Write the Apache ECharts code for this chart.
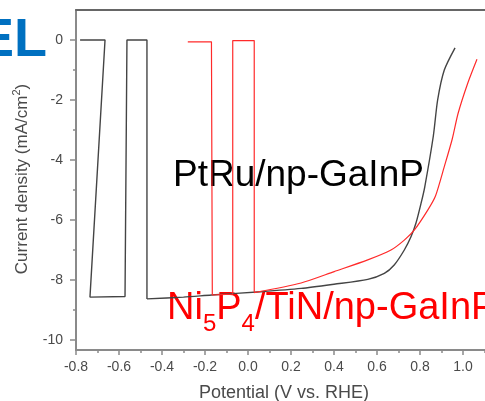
<!DOCTYPE html>
<html><head><meta charset="utf-8">
<script src="https://cdn.jsdelivr.net/npm/echarts@6/dist/echarts.min.js"></script>
<style>html,body{margin:0;padding:0;background:#fff}#c{width:485px;height:401px}</style>
</head><body><div id="c"></div>
<script>
// ---- data ----
const yMajorTicks = [0, -2, -4, -6, -8, -10];
const yMinorTicks = [-1, -3, -5, -7, -9];
const xTitle = 'Potential (V vs. RHE)';
const yTitleMain = 'Current density (mA/cm';
const yTitleSup = '2';
const labelPtRu = 'PtRu/np-GaInP';
const labelNiParts = ['Ni', '5', 'P', '4', '/TiN/np-GaInP'];
const cornerText = 'EL';
// PtRu/np-GaInP (black) [V vs RHE, mA/cm2] : light on/off chopping part
const ptRuSteps = [
  [-0.781, 0], [-0.665, 0], [-0.735, -8.57], [-0.572, -8.55], [-0.563, 0], [-0.470, 0],
  [-0.470, -8.63]
];
// continuous sweep part
const ptRuSweep = [
  [-0.470, -8.63], [-0.30, -8.57], [-0.17, -8.5], [0.06, -8.39], [0.247, -8.28],
  [0.40, -8.14], [0.557, -7.98], [0.634, -7.78], [0.68, -7.5], [0.727, -7.0],
  [0.758, -6.56], [0.781, -6.11], [0.805, -5.44], [0.822, -4.9], [0.862, -3.2],
  [0.882, -2.0], [0.913, -1.0], [0.963, -0.26]
];
// Ni5P4/TiN/np-GaInP (red)
const niSteps = [
  [-0.280, -0.06], [-0.170, -0.06], [-0.166, -8.5], [-0.071, -8.47], [-0.071, -0.02],
  [0.029, -0.02], [0.029, -8.42]
];
const niSweep = [
  [0.029, -8.42], [0.247, -8.1], [0.401, -7.72],
  [0.557, -7.33], [0.665, -7.0], [0.727, -6.67], [0.774, -6.33], [0.836, -5.67],
  [0.872, -5.2], [0.913, -4.22], [0.950, -3.3], [0.977, -2.45], [1.022, -1.44],
  [1.065, -0.64]
];

const FONT = '"Liberation Sans", Arial, Helvetica, sans-serif';
const chart = echarts.init(document.getElementById('c'), null, {renderer: 'canvas'});
const axisGray = '#8a8a8a';
const labelGray = '#4a4a4a';
const black = '#444';
const red = '#ff2a2a';

function line(data, color, width, smooth) {
  return {type: 'line', data: data, xAxisIndex: 0, yAxisIndex: 0,
    showSymbol: false, symbol: 'none', smooth: smooth,
    lineStyle: {color: color, width: width}};
}

chart.setOption({
  animation: false,
  backgroundColor: '#fff',
  grid: {left: 76, right: -21, top: 10, bottom: 51, outerBoundsMode: 'none', containLabel: false},
  xAxis: [{
    type: 'value', min: -0.8, max: 1.2, interval: 0.2,
    axisLine: {show: true, onZero: false, lineStyle: {color: axisGray, width: 2}},
    axisTick: {show: true, inside: false, length: 5, lineStyle: {color: axisGray, width: 1.5}},
    minorTick: {show: true, splitNumber: 2, length: 3, lineStyle: {color: axisGray, width: 1.5}},
    splitLine: {show: false}, minorSplitLine: {show: false},
    axisLabel: {show: true, showMinLabel: true, showMaxLabel: true, margin: 10, fontSize: 14,
      fontFamily: FONT, color: labelGray,
      formatter: v => (Math.abs(v) < 1e-9 ? 0 : v).toFixed(1)}
  }, {
    type: 'value', position: 'top', min: -0.8, max: 1.2,
    axisLine: {show: true, onZero: false, lineStyle: {color: '#666', width: 2}},
    axisTick: {show: false}, axisLabel: {show: false}, splitLine: {show: false}
  }],
  yAxis: [{
    type: 'value', min: -10.333, max: 1,
    axisLine: {show: true, onZero: false, lineStyle: {color: axisGray, width: 2}},
    axisTick: {show: true, inside: false, length: 6, customValues: yMajorTicks,
      lineStyle: {color: axisGray, width: 1.5}},
    axisLabel: {show: true, customValues: yMajorTicks, margin: 13, fontSize: 14,
      fontFamily: FONT, color: labelGray},
    splitLine: {show: false}
  }, {
    type: 'value', min: -10.333, max: 1, position: 'left',
    axisLine: {show: false, onZero: false},
    axisTick: {show: true, inside: false, length: 3, customValues: yMinorTicks,
      lineStyle: {color: axisGray, width: 1.5}},
    axisLabel: {show: false}, splitLine: {show: false}
  }],
  series: [
    line(ptRuSteps, black, 1.4, false),
    line(ptRuSweep, black, 1.4, 0.25),
    line(niSteps, red, 1.2, false),
    line(niSweep, red, 1.2, 0.25)
  ],
  graphic: [
    {type: 'text', style: {text: cornerText, x: 47, y: 41, align: 'right',
      verticalAlign: 'middle', font: 'bold 54px ' + FONT, fill: '#0070c0'}},
    {type: 'text', style: {text: labelPtRu, x: 173, y: 176, align: 'left', verticalAlign: 'middle',
      font: '37px ' + FONT, fill: '#000'}},
    {type: 'text', style: {
      text: '{a|' + labelNiParts[0] + '}{s|' + labelNiParts[1] + '}{a|' + labelNiParts[2] +
            '}{s|' + labelNiParts[3] + '}{a|' + labelNiParts[4] + '}',
      x: 167, y: 309, align: 'left', verticalAlign: 'middle',
      rich: {
        a: {fontSize: 38, fontFamily: FONT, fill: '#ff0000', lineHeight: 54, verticalAlign: 'middle'},
        s: {fontSize: 24, fontFamily: FONT, fill: '#ff0000', lineHeight: 54, verticalAlign: 'bottom'}
      }}},
    {type: 'text', style: {text: xTitle, x: 284, y: 393, align: 'center', verticalAlign: 'middle',
      font: '18px ' + FONT, fill: labelGray}},
    {type: 'text', x: 22, y: 179, rotation: Math.PI / 2, style: {
      text: '{a|' + yTitleMain + '}{s|' + yTitleSup + '}{a|)}',
      x: 0, y: 0, align: 'center', verticalAlign: 'middle',
      rich: {
        a: {fontSize: 17, fontFamily: FONT, fill: labelGray, lineHeight: 22, verticalAlign: 'middle'},
        s: {fontSize: 11, fontFamily: FONT, fill: labelGray, lineHeight: 22, verticalAlign: 'top'}
      }}}
  ]
});
</script></body></html>
